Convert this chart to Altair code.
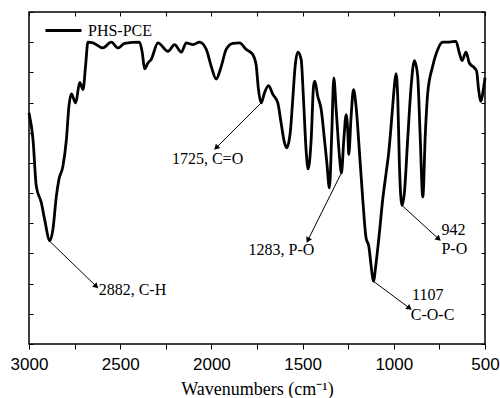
import math
import altair as alt
import pandas as pd

# ---- spectrum data (wavenumber, transmittance-like units) ----
wavenumber = [3000, 2978, 2960, 2932, 2914, 2886, 2869, 2850, 2836, 2814, 2795, 2781,
              2768, 2744, 2722, 2704, 2690, 2677, 2649, 2595, 2549, 2512, 2476, 2394,
              2379, 2366, 2348, 2330, 2293, 2238, 2202, 2165, 2138, 2101, 2065, 2028,
              2001, 1974, 1946, 1919, 1882, 1846, 1809, 1773, 1755, 1742, 1727, 1709,
              1687, 1663, 1636, 1618, 1599, 1587, 1568, 1554, 1541, 1526, 1508, 1495,
              1481, 1470, 1453, 1440, 1433, 1417, 1398, 1380, 1367, 1353, 1340, 1329,
              1316, 1298, 1287, 1274, 1261, 1252, 1247, 1234, 1221, 1207, 1188, 1170,
              1152, 1137, 1124, 1112, 1097, 1079, 1061, 1042, 1028, 1009, 997, 988,
              978, 969, 955, 942, 924, 905, 887, 869, 856, 841, 827, 814, 787, 759,
              732, 695, 659, 641, 626, 604, 586, 558, 546, 535, 522, 509, 500]
transmittance = [76.6, 67.7, 52.3, 46.7, 41.2, 34.2, 37.9, 49.0, 54.5, 58.9, 67.7, 78.8,
                 82.9, 79.9, 86.7, 84.3, 92.0, 100.0, 99.8, 98.1, 100.0, 98.1, 99.6, 100.0,
                 96.5, 91.2, 93.1, 94.3, 99.8, 97.0, 99.2, 96.7, 99.8, 99.2, 100.0, 97.6,
                 92.0, 87.8, 92.0, 97.6, 99.6, 99.8, 97.6, 95.9, 92.6, 84.3, 79.9, 83.2,
                 85.6, 82.7, 79.9, 73.3, 66.6, 65.0, 69.9, 81.0, 92.0, 96.7, 94.3, 81.0,
                 64.4, 58.0, 67.7, 85.4, 87.1, 82.1, 77.7, 67.7, 60.0, 51.7, 69.9, 88.2,
                 77.7, 62.2, 56.7, 67.7, 76.0, 69.9, 62.8, 75.5, 84.3, 78.8, 63.3, 47.8,
                 35.1, 32.4, 25.7, 20.8, 26.9, 36.8, 47.8, 56.7, 63.3, 76.6, 85.4, 89.6,
                 81.0, 58.9, 45.9, 50.1, 67.7, 85.4, 93.9, 88.7, 69.9, 48.7, 69.9, 83.2, 92.0, 97.6,
                 100.0, 100.0, 100.3, 96.5, 93.9, 96.7, 93.1, 91.5, 90.4, 84.3, 80.4, 84.3, 88.2]
series_name = "PHS-PCE"

# ---- annotations ----
arrow_start_wn = [2886, 1727, 1287, 1112, 955]
arrow_start_t = [34.0, 79.9, 56.7, 20.8, 45.9]
arrow_end_wn = [2631, 1974, 1471, 914, 754]
arrow_end_t = [19.1, 65.0, 34.4, 11.9, 34.8]

label_text = ["2882, C-H", "1725, C=O", "1283, P-O", "1107", "C-O-C", "942", "P-O"]
label_wn = [2618, 2021, 1616, 900, 907, 739, 739]
label_t = [17.8, 61.3, 31.0, 16.4, 9.7, 37.9, 31.5]
label_align = ["left", "center", "center", "left", "left", "left", "left"]

x_ticks = list(range(500, 3001, 250))
y_ticks = list(range(0, 111, 10))

W, H = 456, 332
X_DOM = [500, 3000]
Y_DOM = [0, 110]

spec = pd.DataFrame({"wn": wavenumber, "t": transmittance, "s": series_name})

def px(wn, t):
    return (3000 - wn) / 2500 * W, (Y_DOM[1] - t) / (Y_DOM[1] - Y_DOM[0]) * H

angles = []
for a, b, c, d in zip(arrow_start_wn, arrow_start_t, arrow_end_wn, arrow_end_t):
    x1, y1 = px(a, b)
    x2, y2 = px(c, d)
    angles.append(math.degrees(math.atan2(x2 - x1, -(y2 - y1))) % 360)

arrows = pd.DataFrame({"x1": arrow_start_wn, "y1": arrow_start_t,
                       "x2": arrow_end_wn, "y2": arrow_end_t, "ang": angles})
labels = pd.DataFrame({"x": label_wn, "y": label_t, "txt": label_text, "al": label_align})

xscale = alt.Scale(domain=X_DOM, reverse=True, nice=False, zero=False)
yscale = alt.Scale(domain=Y_DOM, nice=False, zero=False)

line = alt.Chart(spec).mark_line(strokeWidth=2.8, interpolate="monotone").encode(
    x=alt.X("wn:Q", scale=xscale,
            axis=alt.Axis(values=x_ticks, orient="bottom", domain=False, grid=False,
                          tickSize=5, tickColor="black", tickWidth=1,
                          labelExpr="datum.value % 500 == 0 ? datum.value : ''",
                          labelFont="Liberation Sans", labelFontSize=17, labelColor="black",
                          labelPadding=7, labelFlush=False, labelOverlap=False,
                          title="Wavenumbers (cm⁻¹)", titleFont="Liberation Serif",
                          titleFontSize=18, titleFontWeight="normal", titleColor="black",
                          titlePadding=8)),
    y=alt.Y("t:Q", scale=yscale,
            axis=alt.Axis(values=y_ticks, orient="left", offset=-4, domain=False, grid=False,
                          labels=False, tickSize=4, tickColor="black", title=None)),
    color=alt.Color("s:N", scale=alt.Scale(domain=[series_name], range=["black"]),
                    legend=alt.Legend(title=None, orient="none", legendX=15, legendY=-1,
                                      symbolType="stroke", symbolSize=1296,
                                      symbolStrokeWidth=3,
                                      labelFont="Liberation Serif",
                                      labelFontSize=16, labelColor="black",
                                      labelOffset=5, padding=0)),
)

rules = alt.Chart(arrows).mark_rule(strokeWidth=1, color="black").encode(
    x=alt.X("x1:Q", scale=xscale,
            axis=alt.Axis(values=x_ticks, orient="top", offset=-4, domain=False, grid=False,
                          labels=False, tickSize=4, tickColor="black", title=None)),
    x2="x2:Q",
    y=alt.Y("y1:Q", scale=yscale,
            axis=alt.Axis(values=y_ticks, orient="right", offset=-4, domain=False, grid=False,
                          labels=False, tickSize=4, tickColor="black", title=None)),
    y2="y2:Q",
)

heads = alt.Chart(arrows).mark_point(shape="triangle-up", filled=True, color="black",
                                     size=40, opacity=1).encode(
    x=alt.X("x2:Q", scale=xscale, axis=None),
    y=alt.Y("y2:Q", scale=yscale, axis=None),
    angle=alt.Angle("ang:Q", scale=None),
)

texts = []
for al in ["left", "center"]:
    texts.append(
        alt.Chart(labels).transform_filter(alt.datum.al == al).mark_text(
            align=al, baseline="middle", font="Liberation Serif", fontSize=16, color="black"
        ).encode(
            x=alt.X("x:Q", scale=xscale, axis=None),
            y=alt.Y("y:Q", scale=yscale, axis=None),
            text="txt:N",
        )
    )

chart = alt.layer(line, rules, heads, *texts).resolve_axis(
    x="independent", y="independent"
).properties(
    width=W, height=H, autosize="none", background="white",
    padding={"left": 29, "top": 12, "right": 15, "bottom": 54},
).configure_view(stroke="black", strokeWidth=1.5)

chart.save("out.html", embed_options={"renderer": "svg", "actions": False})
